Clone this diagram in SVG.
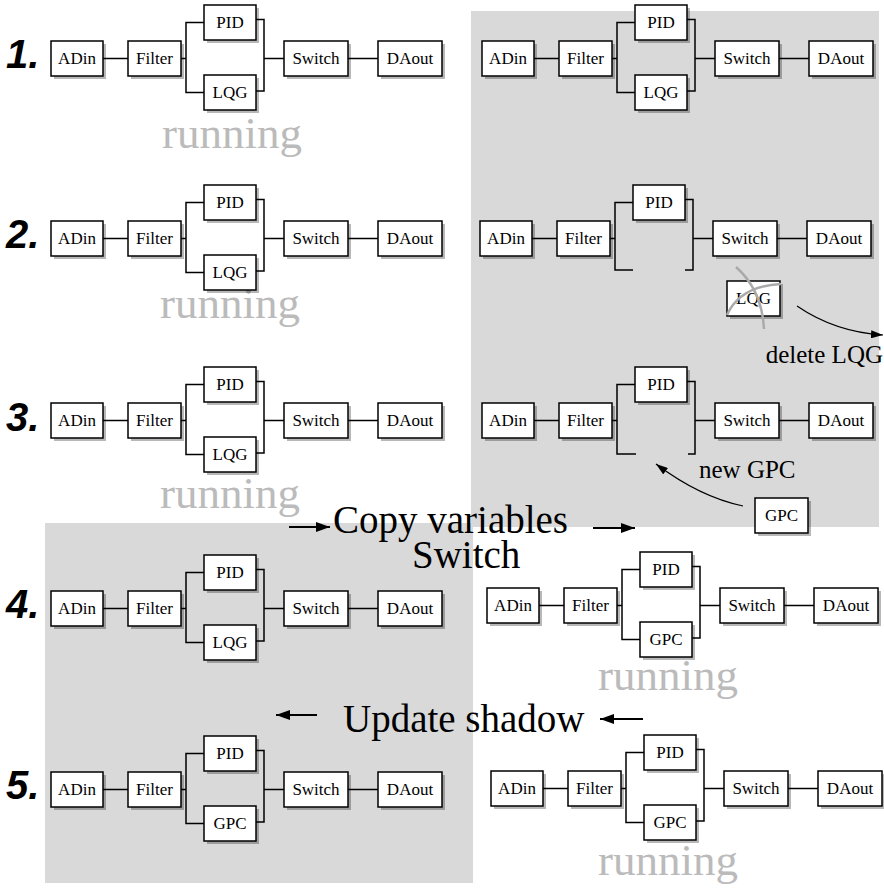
<svg xmlns="http://www.w3.org/2000/svg" width="884" height="891" viewBox="0 0 884 891">
<style>
.bg{fill:#d9d9d9}
.b{fill:#fff;stroke:#000;stroke-width:1.5}
.sh{fill:#000;opacity:.28}
.t{font-family:"Liberation Serif","Times New Roman",serif;font-size:17px;text-anchor:middle;fill:#000}
.w{fill:none;stroke:#000;stroke-width:1.5}
.num{font-family:"Liberation Sans",Arial,sans-serif;font-weight:bold;font-style:italic;font-size:40px;fill:#000}
.run{font-family:"Liberation Serif","Times New Roman",serif;font-size:45px;fill:#bbb}
.big{font-family:"Liberation Serif","Times New Roman",serif;font-size:39px;fill:#000}
.mid{font-family:"Liberation Serif","Times New Roman",serif;font-size:25px;fill:#000}
.arr{fill:none;stroke:#000;stroke-width:2.2}
.carr{fill:none;stroke:#000;stroke-width:1.2}
.cross{fill:none;stroke:#aaa;stroke-width:2.5}
</style>
<defs>
<marker id="ah" markerUnits="userSpaceOnUse" markerWidth="14" markerHeight="10" refX="14" refY="5" orient="auto"><path d="M0,0L14,5L0,10z" fill="#000"/></marker>
<marker id="ah2" markerUnits="userSpaceOnUse" markerWidth="12" markerHeight="8" refX="12" refY="4" orient="auto"><path d="M0,0L12,4L0,8z" fill="#000"/></marker>
</defs>
<rect class="bg" x="471" y="11" width="408" height="516"/>
<rect class="bg" x="45" y="523" width="428" height="360"/>
<g id="labels">
<text class="num" x="6" y="68">1.</text>
<text class="num" x="6" y="248">2.</text>
<text class="num" x="6" y="431">3.</text>
<text class="num" x="6" y="618">4.</text>
<text class="num" x="6" y="799">5.</text>
<text class="run" x="162" y="148">running</text>
<text class="run" x="160" y="318">running</text>
<text class="run" x="160" y="508">running</text>
<text class="run" x="598" y="690">running</text>
<text class="run" x="598" y="875">running</text>
</g>
<g id="connectors">
<path class="w" d="M103,58.5H128M181,58.5H186M204,22.5H186V92.5H204M256,19.5H264V91H256M264,58.5H284M348,58.5H378"/>
<path class="w" d="M534,58.5H559M612,58.5H617M635,22.5H617V92.5H635M687,19.5H695V91H687M695,58.5H715M779,58.5H809"/>
<path class="w" d="M103,238.5H128M181,238.5H186M204,202.5H186V272.5H204M256,199.5H264V271H256M264,238.5H284M348,238.5H378"/>
<path class="w" d="M532,238.5H557M610,238.5H615M633,202.5H615V270H633M685,199.5H693V270H685M693,238.5H713M777,238.5H807"/>
<path class="w" d="M103,420.5H128M181,420.5H186M204,384.5H186V454.5H204M256,381.5H264V453H256M264,420.5H284M348,420.5H378"/>
<path class="w" d="M534,420.5H559M612,420.5H617M635,384.5H617V454H636M687,381.5H695V454H688M695,420.5H715M779,420.5H809"/>
<path class="w" d="M103,608.5H128M181,608.5H186M204,572.5H186V642.5H204M256,569.5H264V641H256M264,608.5H284M348,608.5H378"/>
<path class="w" d="M539,605.5H564M617,605.5H622M640,569.5H622V639.5H640M692,566.5H700V638H692M700,605.5H720M784,605.5H814"/>
<path class="w" d="M103,789.5H128M181,789.5H186M204,753.5H186V823.5H204M256,750.5H264V822H256M264,789.5H284M348,789.5H378"/>
<path class="w" d="M543,788.5H568M621,788.5H626M644,752.5H626V822.5H644M696,749.5H704V821H696M704,788.5H724M788,788.5H818"/>
<path class="carr" d="M797,306Q835,332 883,335" marker-end="url(#ah2)"/>
<path class="carr" d="M743,506Q700,497 656,464" marker-end="url(#ah2)"/>
<path class="arr" d="M289,527H330" marker-end="url(#ah)"/>
<path class="arr" d="M593,528H635" marker-end="url(#ah)"/>
<path class="arr" d="M317,715H276" marker-end="url(#ah)"/>
<path class="arr" d="M643,719H600" marker-end="url(#ah)"/>
</g>
<g id="r1l-adin"><rect class="sh" x="54" y="44" width="52" height="35"/><rect class="b" x="51" y="41" width="52" height="35"/><text class="t" x="77" y="64">ADin</text></g>
<g id="r1l-filter"><rect class="sh" x="131" y="44" width="53" height="35"/><rect class="b" x="128" y="41" width="53" height="35"/><text class="t" x="154.5" y="64">Filter</text></g>
<g id="r1l-pid"><rect class="sh" x="207" y="8" width="52" height="35"/><rect class="b" x="204" y="5" width="52" height="35"/><text class="t" x="230" y="28">PID</text></g>
<g id="r1l-lqg"><rect class="sh" x="207" y="78" width="52" height="35"/><rect class="b" x="204" y="75" width="52" height="35"/><text class="t" x="230" y="98">LQG</text></g>
<g id="r1l-switch"><rect class="sh" x="287" y="44" width="64" height="35"/><rect class="b" x="284" y="41" width="64" height="35"/><text class="t" x="316" y="64">Switch</text></g>
<g id="r1l-daout"><rect class="sh" x="381" y="44" width="64" height="35"/><rect class="b" x="378" y="41" width="64" height="35"/><text class="t" x="410" y="64">DAout</text></g>
<g id="r1r-adin"><rect class="sh" x="485" y="44" width="52" height="35"/><rect class="b" x="482" y="41" width="52" height="35"/><text class="t" x="508" y="64">ADin</text></g>
<g id="r1r-filter"><rect class="sh" x="562" y="44" width="53" height="35"/><rect class="b" x="559" y="41" width="53" height="35"/><text class="t" x="585.5" y="64">Filter</text></g>
<g id="r1r-pid"><rect class="sh" x="638" y="8" width="52" height="35"/><rect class="b" x="635" y="5" width="52" height="35"/><text class="t" x="661" y="28">PID</text></g>
<g id="r1r-lqg"><rect class="sh" x="638" y="78" width="52" height="35"/><rect class="b" x="635" y="75" width="52" height="35"/><text class="t" x="661" y="98">LQG</text></g>
<g id="r1r-switch"><rect class="sh" x="718" y="44" width="64" height="35"/><rect class="b" x="715" y="41" width="64" height="35"/><text class="t" x="747" y="64">Switch</text></g>
<g id="r1r-daout"><rect class="sh" x="812" y="44" width="64" height="35"/><rect class="b" x="809" y="41" width="64" height="35"/><text class="t" x="841" y="64">DAout</text></g>
<g id="r2l-adin"><rect class="sh" x="54" y="224" width="52" height="35"/><rect class="b" x="51" y="221" width="52" height="35"/><text class="t" x="77" y="244">ADin</text></g>
<g id="r2l-filter"><rect class="sh" x="131" y="224" width="53" height="35"/><rect class="b" x="128" y="221" width="53" height="35"/><text class="t" x="154.5" y="244">Filter</text></g>
<g id="r2l-pid"><rect class="sh" x="207" y="188" width="52" height="35"/><rect class="b" x="204" y="185" width="52" height="35"/><text class="t" x="230" y="208">PID</text></g>
<g id="r2l-lqg"><rect class="sh" x="207" y="258" width="52" height="35"/><rect class="b" x="204" y="255" width="52" height="35"/><text class="t" x="230" y="278">LQG</text></g>
<g id="r2l-switch"><rect class="sh" x="287" y="224" width="64" height="35"/><rect class="b" x="284" y="221" width="64" height="35"/><text class="t" x="316" y="244">Switch</text></g>
<g id="r2l-daout"><rect class="sh" x="381" y="224" width="64" height="35"/><rect class="b" x="378" y="221" width="64" height="35"/><text class="t" x="410" y="244">DAout</text></g>
<g id="r2r-adin"><rect class="sh" x="483" y="224" width="52" height="35"/><rect class="b" x="480" y="221" width="52" height="35"/><text class="t" x="506" y="244">ADin</text></g>
<g id="r2r-filter"><rect class="sh" x="560" y="224" width="53" height="35"/><rect class="b" x="557" y="221" width="53" height="35"/><text class="t" x="583.5" y="244">Filter</text></g>
<g id="r2r-pid"><rect class="sh" x="636" y="188" width="52" height="35"/><rect class="b" x="633" y="185" width="52" height="35"/><text class="t" x="659" y="208">PID</text></g>
<g id="r2r-switch"><rect class="sh" x="716" y="224" width="64" height="35"/><rect class="b" x="713" y="221" width="64" height="35"/><text class="t" x="745" y="244">Switch</text></g>
<g id="r2r-daout"><rect class="sh" x="810" y="224" width="64" height="35"/><rect class="b" x="807" y="221" width="64" height="35"/><text class="t" x="839" y="244">DAout</text></g>
<g id="r2r-lqg-deleted"><rect class="sh" x="730" y="284" width="53" height="35"/><rect class="b" x="727" y="281" width="53" height="35"/><text class="t" x="753.5" y="304">LQG</text><path class="cross" d="M736,267Q762,290 764,329M727,315Q740,286 781,284"/></g>
<g id="r3l-adin"><rect class="sh" x="54" y="406" width="52" height="35"/><rect class="b" x="51" y="403" width="52" height="35"/><text class="t" x="77" y="426">ADin</text></g>
<g id="r3l-filter"><rect class="sh" x="131" y="406" width="53" height="35"/><rect class="b" x="128" y="403" width="53" height="35"/><text class="t" x="154.5" y="426">Filter</text></g>
<g id="r3l-pid"><rect class="sh" x="207" y="370" width="52" height="35"/><rect class="b" x="204" y="367" width="52" height="35"/><text class="t" x="230" y="390">PID</text></g>
<g id="r3l-lqg"><rect class="sh" x="207" y="440" width="52" height="35"/><rect class="b" x="204" y="437" width="52" height="35"/><text class="t" x="230" y="460">LQG</text></g>
<g id="r3l-switch"><rect class="sh" x="287" y="406" width="64" height="35"/><rect class="b" x="284" y="403" width="64" height="35"/><text class="t" x="316" y="426">Switch</text></g>
<g id="r3l-daout"><rect class="sh" x="381" y="406" width="64" height="35"/><rect class="b" x="378" y="403" width="64" height="35"/><text class="t" x="410" y="426">DAout</text></g>
<g id="r3r-adin"><rect class="sh" x="485" y="406" width="52" height="35"/><rect class="b" x="482" y="403" width="52" height="35"/><text class="t" x="508" y="426">ADin</text></g>
<g id="r3r-filter"><rect class="sh" x="562" y="406" width="53" height="35"/><rect class="b" x="559" y="403" width="53" height="35"/><text class="t" x="585.5" y="426">Filter</text></g>
<g id="r3r-pid"><rect class="sh" x="638" y="370" width="52" height="35"/><rect class="b" x="635" y="367" width="52" height="35"/><text class="t" x="661" y="390">PID</text></g>
<g id="r3r-switch"><rect class="sh" x="718" y="406" width="64" height="35"/><rect class="b" x="715" y="403" width="64" height="35"/><text class="t" x="747" y="426">Switch</text></g>
<g id="r3r-daout"><rect class="sh" x="812" y="406" width="64" height="35"/><rect class="b" x="809" y="403" width="64" height="35"/><text class="t" x="841" y="426">DAout</text></g>
<g id="r3r-gpc-new"><rect class="sh" x="758" y="501" width="53" height="35"/><rect class="b" x="755" y="498" width="53" height="35"/><text class="t" x="781.5" y="521">GPC</text></g>
<g id="r4l-adin"><rect class="sh" x="54" y="594" width="52" height="35"/><rect class="b" x="51" y="591" width="52" height="35"/><text class="t" x="77" y="614">ADin</text></g>
<g id="r4l-filter"><rect class="sh" x="131" y="594" width="53" height="35"/><rect class="b" x="128" y="591" width="53" height="35"/><text class="t" x="154.5" y="614">Filter</text></g>
<g id="r4l-pid"><rect class="sh" x="207" y="558" width="52" height="35"/><rect class="b" x="204" y="555" width="52" height="35"/><text class="t" x="230" y="578">PID</text></g>
<g id="r4l-lqg"><rect class="sh" x="207" y="628" width="52" height="35"/><rect class="b" x="204" y="625" width="52" height="35"/><text class="t" x="230" y="648">LQG</text></g>
<g id="r4l-switch"><rect class="sh" x="287" y="594" width="64" height="35"/><rect class="b" x="284" y="591" width="64" height="35"/><text class="t" x="316" y="614">Switch</text></g>
<g id="r4l-daout"><rect class="sh" x="381" y="594" width="64" height="35"/><rect class="b" x="378" y="591" width="64" height="35"/><text class="t" x="410" y="614">DAout</text></g>
<g id="r4r-adin"><rect class="sh" x="490" y="591" width="52" height="35"/><rect class="b" x="487" y="588" width="52" height="35"/><text class="t" x="513" y="611">ADin</text></g>
<g id="r4r-filter"><rect class="sh" x="567" y="591" width="53" height="35"/><rect class="b" x="564" y="588" width="53" height="35"/><text class="t" x="590.5" y="611">Filter</text></g>
<g id="r4r-pid"><rect class="sh" x="643" y="555" width="52" height="35"/><rect class="b" x="640" y="552" width="52" height="35"/><text class="t" x="666" y="575">PID</text></g>
<g id="r4r-gpc"><rect class="sh" x="643" y="625" width="52" height="35"/><rect class="b" x="640" y="622" width="52" height="35"/><text class="t" x="666" y="645">GPC</text></g>
<g id="r4r-switch"><rect class="sh" x="723" y="591" width="64" height="35"/><rect class="b" x="720" y="588" width="64" height="35"/><text class="t" x="752" y="611">Switch</text></g>
<g id="r4r-daout"><rect class="sh" x="817" y="591" width="64" height="35"/><rect class="b" x="814" y="588" width="64" height="35"/><text class="t" x="846" y="611">DAout</text></g>
<g id="r5l-adin"><rect class="sh" x="54" y="775" width="52" height="35"/><rect class="b" x="51" y="772" width="52" height="35"/><text class="t" x="77" y="795">ADin</text></g>
<g id="r5l-filter"><rect class="sh" x="131" y="775" width="53" height="35"/><rect class="b" x="128" y="772" width="53" height="35"/><text class="t" x="154.5" y="795">Filter</text></g>
<g id="r5l-pid"><rect class="sh" x="207" y="739" width="52" height="35"/><rect class="b" x="204" y="736" width="52" height="35"/><text class="t" x="230" y="759">PID</text></g>
<g id="r5l-gpc"><rect class="sh" x="207" y="809" width="52" height="35"/><rect class="b" x="204" y="806" width="52" height="35"/><text class="t" x="230" y="829">GPC</text></g>
<g id="r5l-switch"><rect class="sh" x="287" y="775" width="64" height="35"/><rect class="b" x="284" y="772" width="64" height="35"/><text class="t" x="316" y="795">Switch</text></g>
<g id="r5l-daout"><rect class="sh" x="381" y="775" width="64" height="35"/><rect class="b" x="378" y="772" width="64" height="35"/><text class="t" x="410" y="795">DAout</text></g>
<g id="r5r-adin"><rect class="sh" x="494" y="774" width="52" height="35"/><rect class="b" x="491" y="771" width="52" height="35"/><text class="t" x="517" y="794">ADin</text></g>
<g id="r5r-filter"><rect class="sh" x="571" y="774" width="53" height="35"/><rect class="b" x="568" y="771" width="53" height="35"/><text class="t" x="594.5" y="794">Filter</text></g>
<g id="r5r-pid"><rect class="sh" x="647" y="738" width="52" height="35"/><rect class="b" x="644" y="735" width="52" height="35"/><text class="t" x="670" y="758">PID</text></g>
<g id="r5r-gpc"><rect class="sh" x="647" y="808" width="52" height="35"/><rect class="b" x="644" y="805" width="52" height="35"/><text class="t" x="670" y="828">GPC</text></g>
<g id="r5r-switch"><rect class="sh" x="727" y="774" width="64" height="35"/><rect class="b" x="724" y="771" width="64" height="35"/><text class="t" x="756" y="794">Switch</text></g>
<g id="r5r-daout"><rect class="sh" x="821" y="774" width="64" height="35"/><rect class="b" x="818" y="771" width="64" height="35"/><text class="t" x="850" y="794">DAout</text></g>
<g id="captions">
<text class="mid" x="883" y="363" text-anchor="end">delete LQG</text>
<text class="mid" x="699" y="478">new GPC</text>
<text class="big" x="333" y="533">Copy variables</text>
<text class="big" x="412" y="568">Switch</text>
<text class="big" x="343" y="732">Update shadow</text>
</g>
</svg>
